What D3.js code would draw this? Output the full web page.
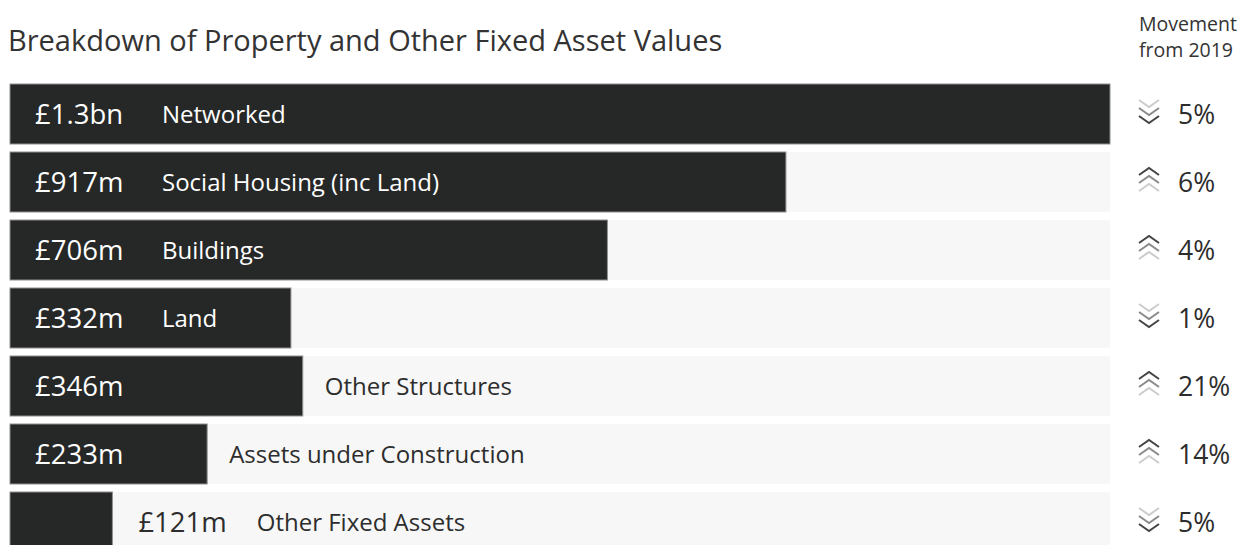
<!DOCTYPE html>
<html>
<head>
<meta charset="utf-8">
<script src="https://cdn.jsdelivr.net/npm/d3@7"></script>
<style>
  html, body { margin: 0; padding: 0; background: #ffffff; }
  svg { display: block; font-family: "Open Sans", Lato, sans-serif; }
</style>
</head>
<body>
<svg id="chart" width="1239" height="545"></svg>
<script>
// Asset categories, values (£m) and movement since 2019 (%)
const categories = [
  "Networked",
  "Social Housing (inc Land)",
  "Buildings",
  "Land",
  "Other Structures",
  "Assets under Construction",
  "Other Fixed Assets"
];
const values = [1300, 917, 706, 332, 346, 233, 121];
const movement = [-5, 6, 4, -1, 21, 14, -5];

const titleText = "Breakdown of Property and Other Fixed Asset Values";
const movementHeader = ["Movement", "from 2019"];

const trackLeft = 10, trackRight = 1110;
const innerPad = 25;          // inset of labels inside a bar
const nameColumn = 162;       // x of category names that sit inside a bar
const colors = {
  bar: "#262827",
  barEdge: "#8e8e8e",
  track: "#f7f7f7",
  text: "#2d2d2d",
  light: "#ffffff"
};

const fmtValue = v => v >= 1000 ? "£" + (v / 1000).toFixed(1) + "bn" : "£" + v + "m";

const svg = d3.select("#chart");

const x = d3.scaleLinear().domain([0, d3.max(values)]).range([trackLeft, trackRight]);
const y = d3.scaleBand()
  .domain(categories)
  .range([84, 84 + categories.length * 68 - 8])
  .paddingInner(8 / 68)
  .paddingOuter(0);

// Title
svg.append("text")
  .attr("x", 8).attr("y", 51)
  .attr("fill", "#333")
  .style("font-size", "29px")
  .text(titleText);

// Column header for the movement figures
svg.append("text")
  .attr("x", 1139).attr("y", 31)
  .attr("fill", "#333")
  .style("font-size", "19.5px")
  .selectAll("tspan")
  .data(movementHeader)
  .join("tspan")
  .attr("x", 1139)
  .attr("dy", (d, i) => i === 0 ? 0 : 26)
  .text(d => d);

const rows = categories.map((c, i) => ({
  name: c, value: values[i], move: movement[i]
}));

const row = svg.selectAll("g.row")
  .data(rows)
  .join("g")
  .attr("class", "row")
  .attr("transform", d => `translate(0,${y(d.name)})`);

const bh = y.bandwidth();

// Background track
row.append("rect")
  .attr("x", trackLeft).attr("y", 0)
  .attr("width", trackRight - trackLeft).attr("height", bh)
  .attr("fill", colors.track);

// Value bar
row.append("rect")
  .attr("x", trackLeft).attr("y", 0)
  .attr("width", d => x(d.value) - trackLeft).attr("height", bh)
  .attr("fill", colors.bar)
  .attr("stroke", colors.barEdge)
  .attr("stroke-width", 1);

// Value and category labels, placed inside the bar when they fit
row.each(function(d) {
  const g = d3.select(this);
  const barEnd = x(d.value);
  const cy = bh / 2;

  const vt = g.append("text")
    .attr("y", cy).attr("dy", "0.36em")
    .style("font-size", "27.5px")
    .text(fmtValue(d.value));
  const vw = vt.node().getComputedTextLength();
  const valueInside = (barEnd - trackLeft) >= vw + 2 * innerPad;
  const vx = valueInside ? trackLeft + innerPad : barEnd + 26;
  vt.attr("x", vx).attr("fill", valueInside ? colors.light : colors.text);

  const nt = g.append("text")
    .attr("y", cy).attr("dy", "0.36em")
    .style("font-size", "24px")
    .text(d.name);
  const nw = nt.node().getComputedTextLength();
  const nameInside = valueInside && nameColumn + nw + innerPad <= barEnd;
  const nx = nameInside ? nameColumn : Math.max(barEnd + 22, vx + vw + 30);
  nt.attr("x", nx).attr("fill", nameInside ? colors.light : colors.text);

  // Triple chevron showing direction of movement
  const up = d.move >= 0;
  const shades = up ? ["#444444", "#8a8a8a", "#cccccc"] : ["#cccccc", "#8a8a8a", "#444444"];
  const ax = 1139, aw = 20, ah = 7, gapY = 8;
  const top = cy - 14;
  shades.forEach((col, k) => {
    const y0 = top + k * gapY;
    const pts = up
      ? [[ax, y0 + ah], [ax + aw / 2, y0], [ax + aw, y0 + ah]]
      : [[ax, y0], [ax + aw / 2, y0 + ah], [ax + aw, y0]];
    g.append("path")
      .attr("d", d3.line()(pts))
      .attr("fill", "none")
      .attr("stroke", col)
      .attr("stroke-width", 2);
  });

  g.append("text")
    .attr("x", 1178).attr("y", cy).attr("dy", "0.36em")
    .attr("fill", colors.text)
    .style("font-size", "26.5px")
    .text(Math.abs(d.move) + "%");
});
</script>
</body>
</html>
